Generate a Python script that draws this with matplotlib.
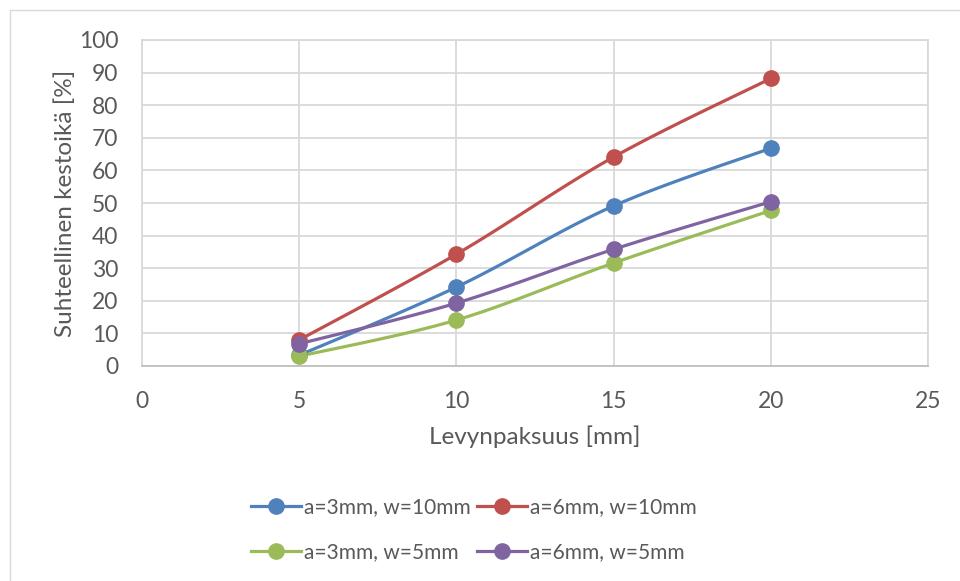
import numpy as np
import matplotlib
matplotlib.use("Agg")
import matplotlib.pyplot as plt
from matplotlib.lines import Line2D
from matplotlib.patches import Rectangle

plt.rcParams['font.family'] = ['Lato', 'DejaVu Sans']

x_vals = [5, 10, 15, 20]
series_names = ["a=3mm, w=10mm", "a=6mm, w=10mm", "a=3mm, w=5mm", "a=6mm, w=5mm"]
s_a3_w10 = [3.3, 24.2, 49.1, 66.8]
s_a6_w10 = [8.0, 34.3, 64.1, 88.2]
s_a3_w5 = [3.0, 14.1, 31.6, 47.7]
s_a6_w5 = [6.8, 19.3, 35.8, 50.4]
series = [s_a3_w10, s_a6_w10, s_a3_w5, s_a6_w5]
colors = ["#4F81BD", "#C0504D", "#9BBB59", "#8064A2"]
x_ticks = [0, 5, 10, 15, 20, 25]
y_ticks = list(range(0, 101, 10))
TXT = "#595959"
GRID = "#D9D9D9"


def smooth(xs, ys, n=30):
    """Excel-like smoothed line (Catmull-Rom Bezier) for display only."""
    P = np.column_stack([xs, ys]).astype(float)
    out = [P[0]]
    for i in range(len(P) - 1):
        p0 = P[i - 1] if i > 0 else P[i]
        p1 = P[i]
        p2 = P[i + 1]
        p3 = P[i + 2] if i + 2 < len(P) else P[i + 1]
        c1 = p1 + (p2 - p0) / 6.0
        c2 = p2 - (p3 - p1) / 6.0
        t = np.linspace(0, 1, n)[1:, None]
        b = ((1 - t) ** 3) * p1 + 3 * ((1 - t) ** 2) * t * c1 + 3 * (1 - t) * t ** 2 * c2 + t ** 3 * p2
        out.extend(b)
    out = np.array(out)
    return out[:, 0], out[:, 1]


fig = plt.figure(figsize=(9.6, 5.81), dpi=100)
fig.patches.append(Rectangle((10 / 960, -0.05), 1.2, 1 - 10 / 581 + 0.05,
                             transform=fig.transFigure, fill=False,
                             edgecolor=GRID, linewidth=1.0))

ax = fig.add_axes([142 / 960, 1 - 366 / 581, (928 - 142) / 960, (366 - 40) / 581])
ax.set_xlim(0, 25)
ax.set_ylim(0, 100)
ax.set_xticks(x_ticks)
ax.set_yticks(y_ticks)
ax.grid(True, color=GRID, linewidth=1.3)
ax.set_axisbelow(True)
for side in ['top', 'right', 'left']:
    ax.spines[side].set_color(GRID)
    ax.spines[side].set_linewidth(1.3)
ax.spines['bottom'].set_color("#BFBFBF")
ax.spines['bottom'].set_linewidth(1.3)
ax.tick_params(length=0, labelsize=16.5, labelcolor=TXT)
ax.tick_params(axis='y', pad=17)
ax.tick_params(axis='x', pad=18)

for ys, c, name in zip(series, colors, series_names):
    sx, sy = smooth(x_vals, ys)
    ax.plot(sx, sy, color=c, linewidth=2.3, solid_capstyle='round', zorder=3)
    ax.plot(x_vals, ys, linestyle='none', marker='o', markersize=11,
            color=c, zorder=4)

ax.set_xlabel("Levynpaksuus [mm]", fontsize=17.5, color=TXT)
ax.set_ylabel("Suhteellinen kestoikä [%]", fontsize=17.5, color=TXT)
ax.xaxis.set_label_coords(0.5, -0.218)
ax.yaxis.set_label_coords(-0.098, 0.5)
ax.xaxis.label.set_va('center')
ax.yaxis.label.set_va('center')

handles = [Line2D([0], [0], color=c, linewidth=2.3, marker='o', markersize=11)
           for c in colors]
order = [0, 2, 1, 3]  # column-major fill so rows read blue/red, green/purple
leg = fig.legend([handles[i] for i in order], [series_names[i] for i in order],
                 loc='center', bbox_to_anchor=(474 / 960, 1 - 530 / 581),
                 ncol=2, frameon=False, fontsize=15, labelcolor=TXT,
                 handlelength=2.4, handletextpad=0.15, columnspacing=0.3,
                 labelspacing=1.2)

fig.savefig("out.png", dpi=100)
